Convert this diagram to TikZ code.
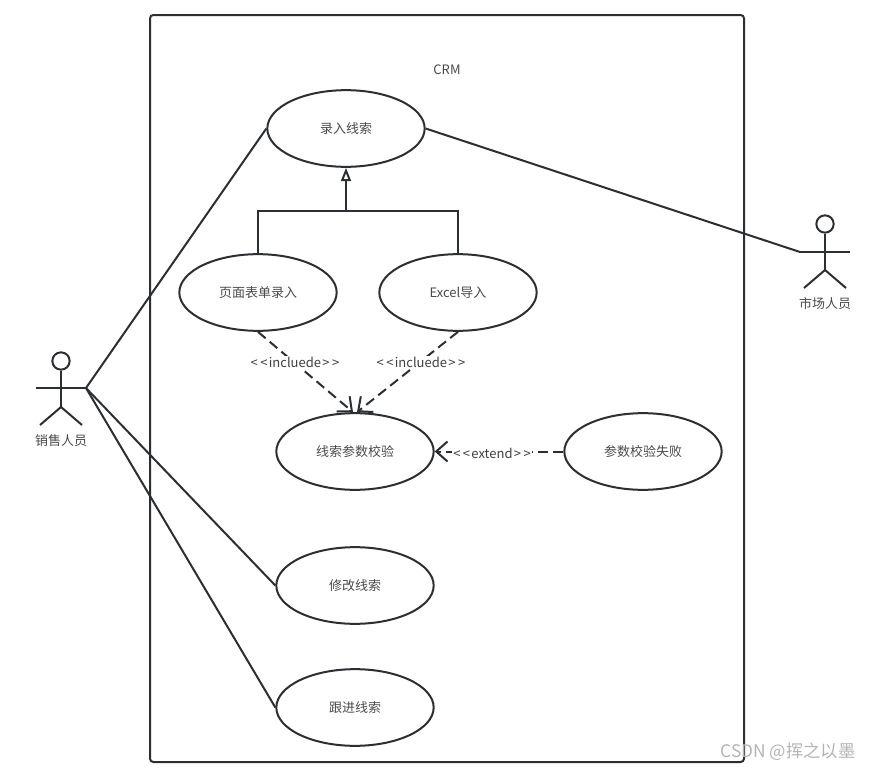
\documentclass[tikz,border=0pt]{standalone}
\usepackage{fontspec}
\setmainfont{Noto Sans CJK SC}
\usetikzlibrary{arrows.meta,shapes.geometric}

\definecolor{linecol}{HTML}{2B2F33}
\definecolor{textcol}{HTML}{4A4A4A}
\definecolor{markcol}{HTML}{B4B4B4}
\newcommand{\dbl}[1]{#1\kern1.8pt#1}
\tikzset{
  line/.style={draw=linecol, line width=1.5pt},
  usecase/.style={line, ellipse, minimum width=118pt, minimum height=57.5pt, inner sep=0pt,
    text=textcol, font=\fontsize{9.75pt}{12pt}\selectfont},
  label/.style={text=textcol, inner sep=1pt, font=\fontsize{9.75pt}{12pt}\selectfont},
  deplabel/.style={label, fill=white, text=black!75},
  dep/.style={line, dash pattern=on 7.5pt off 4pt,
    -{Straight Barb[length=8.5pt,width=15pt,line width=1.5pt]}},
}

\begin{document}
\begin{tikzpicture}[x=0.75pt, y=-0.75pt]
  \useasboundingbox (0,0) rectangle (871,771);

  % 系统边界
  \draw[line, rounded corners=2.5pt] (150,15) rectangle (744,762);
  \node[label] (crm) at (447,69.5) {CRM};

  % 用例
  \node[usecase] (record) at (346,128.5) {录入线索};
  \node[usecase] (form) at (258,292.5) {页面表单录入};
  \node[usecase] (excel) at (458,292.5) {Excel导入};
  \node[usecase] (check) at (355,451.5) {线索参数校验};
  \node[usecase] (fail) at (643,451.5) {参数校验失败};
  \node[usecase] (modify) at (355,585.5) {修改线索};
  \node[usecase] (follow) at (355,707.5) {跟进线索};

  % 销售人员
  \node[line, circle, minimum size=13pt, inner sep=0pt] (saleshead) at (61,361) {};
  \coordinate (saleship) at (61,407);
  \coordinate (salesleft) at (36,388);
  \coordinate (saleshand) at (86,388);
  \draw[line] (saleshead) -- (saleship);
  \draw[line] (salesleft) -- (saleshand);
  \draw[line] (40,425) -- (saleship) -- (82,425);
  \node[label] (sales) at (61,440.5) {销售人员};

  % 市场人员
  \node[line, circle, minimum size=13pt, inner sep=0pt] (markethead) at (825,224) {};
  \coordinate (markethip) at (825,270);
  \coordinate (markethand) at (800,252);
  \coordinate (marketright) at (850,252);
  \draw[line] (markethead) -- (markethip);
  \draw[line] (markethand) -- (marketright);
  \draw[line] (804,288) -- (markethip) -- (846,288);
  \node[label] (market) at (825,303.5) {市场人员};

  % 关联
  \draw[line] (saleshand) -- (record.west);
  \draw[line] (saleshand) -- (modify.west);
  \draw[line] (saleshand) -- (follow.west);
  \draw[line] (record.east) -- (markethand);

  % 泛化
  \coordinate (branch) at (346,211);
  \draw[line] (form.north) |- (branch) -| (excel.north);
  \draw[line, -{Triangle[open, length=10pt, width=7.5pt, line width=1.5pt]}] (branch) -- (record.south);

  % 依赖
  \draw[dep] (form.south) -- ([xshift=-1.5pt]check.north);
  \draw[dep] (excel.south) -- ([xshift=1.5pt]check.north);
  \draw[dep] (fail.west) -- (check.east);
  \node[deplabel] (include1) at (295,362.5) {\dbl{<}\kern1pt incluede\kern1pt\dbl{>}};
  \node[deplabel] (include2) at (421,362.5) {\dbl{<}\kern1pt incluede\kern1pt\dbl{>}};
  \node[deplabel] (extend) at (492,453.5) {\dbl{<}\kern1pt extend\kern1pt\dbl{>}};

  % 水印
  \node[text=markcol, inner sep=0pt, font=\fontsize{13pt}{15pt}\selectfont] (mark) at (788,752) {CSDN @挥之以墨};
\end{tikzpicture}
\end{document}
